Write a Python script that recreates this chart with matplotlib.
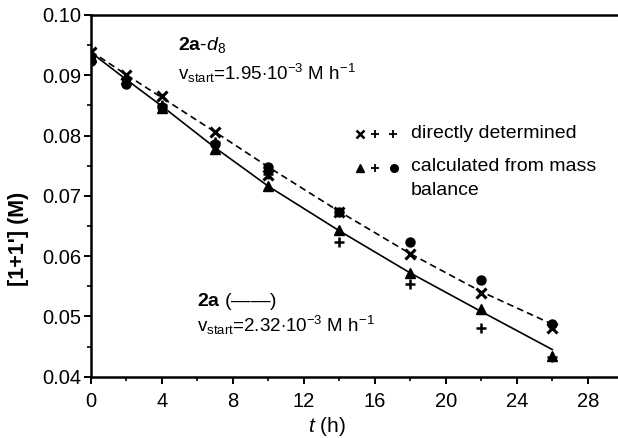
import matplotlib
matplotlib.use("Agg")
import matplotlib.pyplot as plt
from matplotlib.ticker import MultipleLocator

plt.rcParams["font.family"] = ["Liberation Sans", "DejaVu Sans"]
plt.rcParams["mathtext.fontset"] = "custom"
plt.rcParams["mathtext.rm"] = "Liberation Sans"
plt.rcParams["mathtext.it"] = "Liberation Sans:italic"
plt.rcParams["mathtext.bf"] = "Liberation Sans:bold"

# time points (h)
t = [0, 2, 4, 7, 10, 14, 18, 22, 26]

# 2a-d8: directly determined (x) and calculated from mass balance (circles)
d8_direct = [0.0939, 0.0900, 0.0866, 0.0806, 0.0735, 0.0674, 0.0604, 0.0539, 0.0481]
d8_calc = [0.0924, 0.0885, 0.0847, 0.0786, 0.0748, 0.0674, 0.0623, 0.0561, 0.0488]

# 2a: directly determined (+) and calculated from mass balance (triangles)
a_direct = [0.0933, 0.0895, 0.0851, 0.0790, 0.0737, 0.0623, 0.0554, 0.0481, 0.0433]
a_calc = [0.0930, 0.0893, 0.0845, 0.0778, 0.0716, 0.0644, 0.0572, 0.0513, 0.0434]

# fitted curves
d8_fit = [0.0940, 0.0901, 0.0863, 0.0806, 0.0748, 0.0674, 0.0604, 0.0541, 0.0487]
a_fit = [0.0938, 0.0893, 0.0849, 0.0780, 0.0716, 0.0642, 0.0572, 0.0508, 0.0445]

fig = plt.figure(figsize=(6.18, 4.38), dpi=100)
ax = fig.add_axes([0.1468, 0.140, 0.8532, 0.8258])

ax.plot(t, d8_fit, color="black", linestyle=(0, (4, 2.5)), linewidth=1.2)
ax.plot(t, a_fit, color="black", linestyle="-", linewidth=1.2)

ax.plot(t, d8_direct, linestyle="none", marker="x", color="black",
        markersize=7, markeredgewidth=2.2)
ax.plot(t, d8_calc, linestyle="none", marker="o", color="black",
        markersize=6.5)
ax.plot(t, a_calc, linestyle="none", marker="^", color="black",
        markersize=6.5)
ax.plot(t, a_direct, linestyle="none", marker="+", color="black",
        markersize=6.5, markeredgewidth=1.8)

ax.set_xlim(0, 29.7)
ax.set_ylim(0.04, 0.10)
ax.xaxis.set_major_locator(MultipleLocator(4))
ax.xaxis.set_minor_locator(MultipleLocator(2))
ax.yaxis.set_major_locator(MultipleLocator(0.01))
ax.yaxis.set_minor_locator(MultipleLocator(0.005))
ax.yaxis.set_major_formatter(plt.FormatStrFormatter("%.2f"))

ax.spines["right"].set_visible(False)
for s in ["left", "bottom", "top"]:
    ax.spines[s].set_linewidth(1.8)
ax.tick_params(which="major", direction="out", length=5, width=1.4,
               labelsize=14.5, top=False, right=False)
ax.tick_params(axis="x", which="major", pad=6)
ax.tick_params(axis="y", which="major", pad=2)
ax.tick_params(which="minor", direction="out", length=3, width=1.2,
               top=False, right=False)

ax.set_xlabel("$\\it{t}$ (h)", fontsize=15)
ax.xaxis.set_label_coords(0.448, -0.105)
ax.set_ylabel("[1+1'] (M)", fontsize=15.5, fontweight="bold")
ax.yaxis.set_label_coords(-0.118, 0.381)

# annotations
ax.text(4.92, 0.0942, "$\\mathbf{2a}$-$\\it{d}_8$", fontsize=14,
        ha="left", va="baseline")
ax.text(4.92, 0.0892, "v$_{\\mathrm{start}}$=1.95$\\cdot$10$^{-3}$ M h$^{-1}$",
        fontsize=13.5, ha="left", va="baseline")

# key for the symbols
ax.plot([15.17], [0.0802], linestyle="none", marker="x", color="black",
        markersize=6, markeredgewidth=1.8)
ax.plot([16.0, 17.0], [0.0802, 0.0802], linestyle="none", marker="+",
        color="black", markersize=5.5, markeredgewidth=1.3)
ax.text(18.05, 0.0796, "directly determined", fontsize=14,
        ha="left", va="baseline")
ax.plot([15.17], [0.0746], linestyle="none", marker="^", color="black",
        markersize=6)
ax.plot([16.0], [0.0746], linestyle="none", marker="+", color="black",
        markersize=5.5, markeredgewidth=1.3)
ax.plot([17.1], [0.0746], linestyle="none", marker="o", color="black",
        markersize=5.5)
ax.text(18.05, 0.0741, "calculated from mass", fontsize=14,
        ha="left", va="baseline")
ax.text(18.05, 0.0701, "balance", fontsize=14, ha="left", va="baseline")

ax.text(6.0, 0.0517, "$\\mathbf{2a}$ (\u2014\u2014)", fontsize=14,
        ha="left", va="baseline")
ax.text(6.0, 0.0474, "v$_{\\mathrm{start}}$=2.32$\\cdot$10$^{-3}$ M h$^{-1}$",
        fontsize=13.5, ha="left", va="baseline")

fig.savefig("out.png", dpi=100)
